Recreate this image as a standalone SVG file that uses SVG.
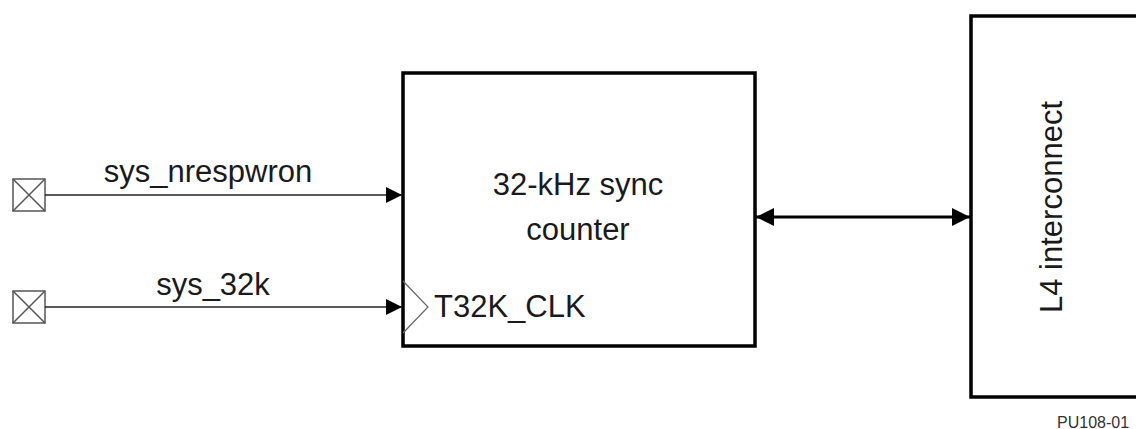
<svg xmlns="http://www.w3.org/2000/svg" width="1136" height="429" viewBox="0 0 1136 429">
<style>
text{font-family:"Liberation Sans",Arial,sans-serif;fill:#1a1a1a;font-size:31px}
.box{fill:#fff;stroke:#000;stroke-width:3.5}
.pad{fill:none;stroke:#555;stroke-width:1.5}
.wire{stroke:#222;stroke-width:1.5;fill:none}
.bus{stroke:#000;stroke-width:3;fill:none}
</style>
<defs>
<marker id="ah" viewBox="0 0 16 16" refX="16" refY="8" markerWidth="16" markerHeight="16" markerUnits="userSpaceOnUse" orient="auto">
<path d="M0,0 L16,8 L0,16 Z" fill="#000"/>
</marker>
<marker id="bh" viewBox="0 0 18 18" refX="18" refY="9" markerWidth="18" markerHeight="18" markerUnits="userSpaceOnUse" orient="auto-start-reverse">
<path d="M0,0 L18,9 L0,18 Z" fill="#000"/>
</marker>
</defs>
<g id="pad1">
<rect class="pad" x="13" y="179" width="32" height="32"/>
<path class="pad" d="M13,179 L45,211 M45,179 L13,211"/>
</g>
<g id="pad2">
<rect class="pad" x="13" y="291" width="32" height="32"/>
<path class="pad" d="M13,291 L45,323 M45,291 L13,323"/>
</g>
<g id="counter">
<rect class="box" x="403" y="73" width="352" height="273"/>
<polyline points="403,281 428,307 403,333" fill="none" stroke="#666" stroke-width="1.2"/>
<text x="578" y="195" text-anchor="middle">32-kHz sync</text>
<text x="578" y="240" text-anchor="middle">counter</text>
<text x="434" y="317">T32K_CLK</text>
</g>
<g id="l4">
<rect class="box" x="971" y="16" width="200" height="381"/>
<text transform="translate(1062,207) rotate(-90)" text-anchor="middle">L4 interconnect</text>
</g>
<g id="connectors">
<line class="wire" x1="45" y1="195" x2="402" y2="195" marker-end="url(#ah)"/>
<text x="208" y="182" text-anchor="middle">sys_nrespwron</text>
<line class="wire" x1="45" y1="307" x2="402" y2="307" marker-end="url(#ah)"/>
<text x="213" y="295" text-anchor="middle">sys_32k</text>
<line class="bus" x1="756" y1="217" x2="970" y2="217" marker-start="url(#bh)" marker-end="url(#bh)"/>
</g>
<text x="1057" y="428" style="font-size:16px;fill:#333">PU108-01</text>
</svg>
